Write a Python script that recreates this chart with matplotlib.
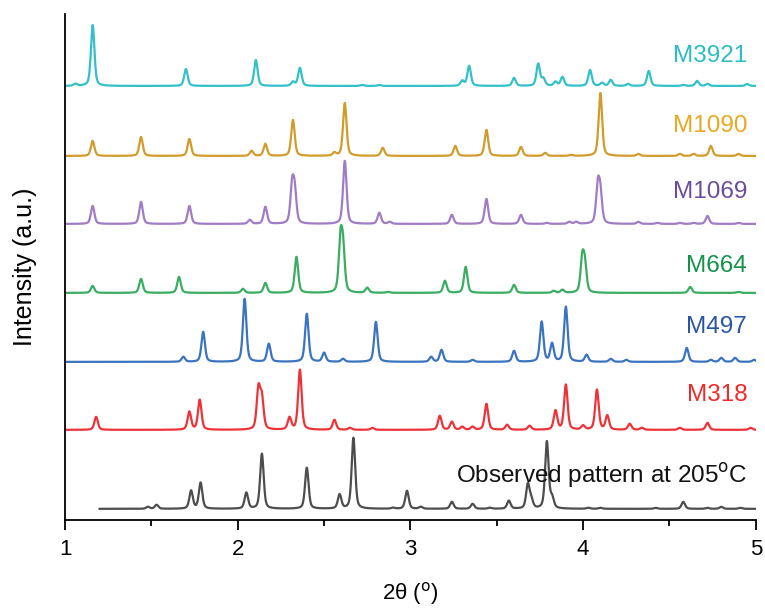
#
# Stacked powder patterns: observed pattern vs. simulated models
#
import numpy as np
import matplotlib.pyplot as plt

plt.rcParams['font.family'] = ['Liberation Sans', 'DejaVu Sans']

# peak positions (2theta, deg) and heights (a.u.) for each pattern
obs_pos = [1.48, 1.53, 1.73, 1.785, 2.05, 2.14, 2.40, 2.59, 2.67, 2.90, 2.98, 3.06, 3.24, 3.36,
           3.46, 3.57, 3.68, 3.70, 3.79, 3.82, 4.03, 4.10, 4.42, 4.58, 4.72, 4.80, 4.91]
obs_hgt = [2, 4, 18, 26, 16, 55, 41, 14, 71, 1, 18, 2, 7, 5, 1, 8, 24, 8, 67, 10, 1, 1, 1, 7, 1, 2, 1]

m318_pos = [1.18, 1.72, 1.78, 2.12, 2.14, 2.30, 2.36, 2.56, 2.65, 2.78, 3.17, 3.24, 3.30, 3.36,
            3.44, 3.56, 3.69, 3.84, 3.90, 4.00, 4.08, 4.14, 4.27, 4.34, 4.56, 4.72, 4.97]
m318_hgt = [13, 18, 30, 40, 30, 12, 60, 10, 2, 2, 14, 8, 3, 3, 26, 5, 4, 19, 45, 4, 40, 14, 6, 2, 2, 7, 2]

m497_pos = [1.685, 1.80, 2.04, 2.18, 2.40, 2.50, 2.61, 2.80, 3.12, 3.18, 3.36, 3.60, 3.76, 3.82,
            3.90, 4.02, 4.16, 4.25, 4.60, 4.74, 4.80, 4.88, 4.99]
m497_hgt = [5, 30, 63, 18, 48, 9, 3, 40, 5, 12, 2, 11, 40, 18, 55, 7, 3, 2, 14, 2, 4, 4, 2]

m664_pos = [1.16, 1.44, 1.66, 2.03, 2.16, 2.34, 2.595, 2.61, 2.75, 2.87, 3.20, 3.32, 3.60, 3.83,
            3.88, 3.995, 4.01, 4.62, 4.90]
m664_hgt = [7, 14, 16, 4, 10, 36, 50, 40, 5, 1, 12, 26, 8, 2, 3, 32, 26, 6, 1]

m1069_pos = [1.16, 1.44, 1.72, 2.07, 2.16, 2.315, 2.33, 2.62, 2.82, 2.88, 3.24, 3.44, 3.64, 3.79,
             3.92, 3.96, 4.085, 4.10, 4.32, 4.43, 4.56, 4.64, 4.72, 4.90]
m1069_hgt = [18, 22, 18, 4, 17, 36, 30, 63, 11, 2, 9, 25, 9, 1, 2, 2, 36, 28, 2, 1, 1, 1, 8, 1]

m1090_pos = [1.16, 1.44, 1.72, 2.08, 2.16, 2.32, 2.56, 2.62, 2.84, 3.26, 3.44, 3.64, 3.78, 3.93,
             4.10, 4.32, 4.56, 4.64, 4.74, 4.90]
m1090_hgt = [15, 19, 17, 5, 12, 36, 3, 53, 8, 10, 26, 9, 3, 1, 63, 2, 2, 2, 10, 2]

m3921_pos = [1.06, 1.16, 1.70, 2.105, 2.32, 2.36, 2.72, 2.82, 3.30, 3.34, 3.60, 3.74, 3.77, 3.84,
             3.88, 4.04, 4.11, 4.16, 4.26, 4.38, 4.58, 4.66, 4.72, 4.95]
m3921_hgt = [2, 61, 17, 26, 4, 18, 1, 1, 5, 20, 8, 22, 7, 4, 9, 16, 3, 6, 2, 15, 1, 5, 2, 2]

names = ['Observed pattern at 205$^{\\mathrm{o}}$C', 'M318', 'M497', 'M664', 'M1069', 'M1090', 'M3921']
offsets = [11, 90, 158, 227, 296, 364, 434]
label_y = [37, 119, 187, 248, 322, 388, 458]
line_cols = ['#4d4d4d', '#ee3338', '#3a74bf', '#3aad62', '#a07cc5', '#d29c2c', '#33c1c7']
text_cols = ['#111111', '#ee2a2a', '#2a55a5', '#14924a', '#6a4ca0', '#e8a820', '#2bbdc4']
peaks = [(obs_pos, obs_hgt), (m318_pos, m318_hgt), (m497_pos, m497_hgt), (m664_pos, m664_hgt),
         (m1069_pos, m1069_hgt), (m1090_pos, m1090_hgt), (m3921_pos, m3921_hgt)]


def profile(x, pos, hgt, fwhm=0.024, eta=0.45):
    # pseudo-Voigt line shape for every peak
    y = np.zeros_like(x)
    g = fwhm / 2.0
    for p, h in zip(pos, hgt):
        d = x - p
        lor = 1.0 / (1.0 + (d / g) ** 2)
        gau = np.exp(-np.log(2) * (d / g) ** 2)
        y += h * (eta * lor + (1 - eta) * gau)
    return y


fig = plt.figure(figsize=(7.65, 6.08), dpi=100)
ax = fig.add_axes([0.085, 0.145, 0.903, 0.832])

for i in range(len(names)):
    x = np.linspace(1.0, 5.0, 4001)
    if i == 0:
        x = np.linspace(1.2, 5.0, 3801)
    y = profile(x, *peaks[i]) + offsets[i]
    ax.plot(x, y, color=line_cols[i], lw=1.6)
    ax.text(4.95, label_y[i], names[i], color=text_cols[i], fontsize=17.5,
            ha='right', va='baseline')

ax.set_xlim(1, 5)
ax.set_ylim(0, 506)
ax.set_xticks([1, 2, 3, 4, 5])
ax.set_xticks([1.5, 2.5, 3.5, 4.5], minor=True)
ax.set_yticks([])
ax.spines['top'].set_visible(False)
ax.spines['right'].set_visible(False)
ax.spines['left'].set_linewidth(1.3)
ax.spines['bottom'].set_linewidth(1.3)
ax.tick_params(axis='x', which='major', direction='out', length=7, width=1.3,
               labelsize=16, pad=7)
ax.tick_params(axis='x', which='minor', direction='out', length=4, width=1.3)
ax.set_xlabel('2\u03b8 ($^{\\mathrm{o}}$)', fontsize=16, labelpad=14)
ax.set_ylabel('Intensity (a.u.)', fontsize=18, labelpad=20)

plt.savefig('out.png', dpi=100)
